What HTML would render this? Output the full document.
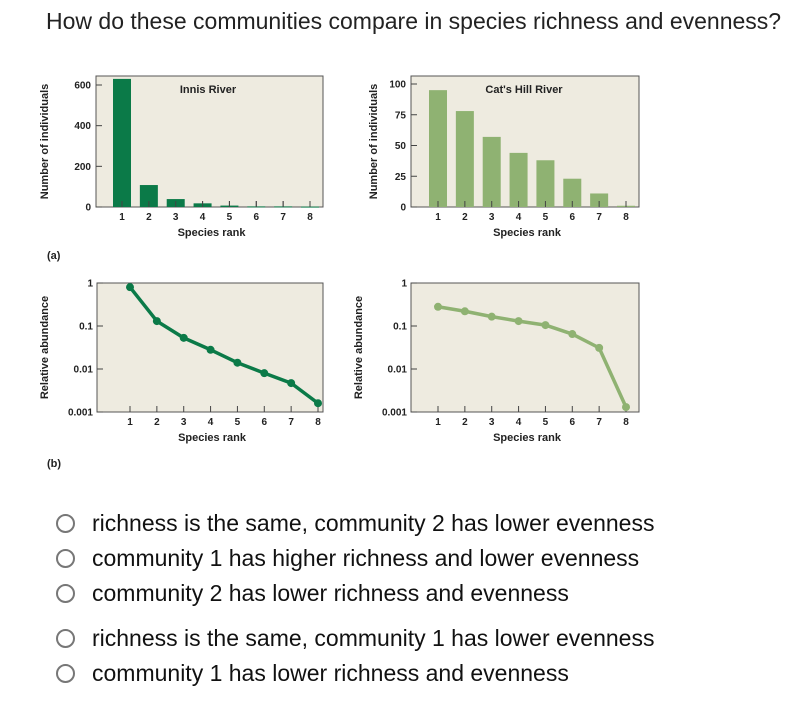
<!DOCTYPE html>
<html><head><meta charset="utf-8"><style>
body{margin:0;width:811px;height:704px;background:#fff;font-family:"Liberation Sans",Arial,sans-serif;overflow:hidden;position:relative}
#q{position:absolute;left:46px;top:8px;font-size:23px;color:#222;white-space:nowrap}
.opt{position:absolute;left:56px;height:30px;font-size:23px;color:#111;white-space:nowrap;display:flex;align-items:center}
.opt .r{width:19px;height:19px;border:2px solid #777;border-radius:50%;margin-right:17px;box-sizing:border-box}
svg{position:absolute;left:0;top:0}
svg text{font-family:"Liberation Sans",Arial,sans-serif;font-weight:bold;fill:#222}
</style></head><body>
<div id="q">How do these communities compare in species richness and evenness?</div>
<svg id="fig" width="811" height="480"></svg>
<div class="opt" style="top:508px"><span class="r"></span>richness is the same, community 2 has lower evenness</div>
<div class="opt" style="top:543px"><span class="r"></span>community 1 has higher richness and lower evenness</div>
<div class="opt" style="top:578px"><span class="r"></span>community 2 has lower richness and evenness</div>
<div class="opt" style="top:623px"><span class="r"></span>richness is the same, community 1 has lower evenness</div>
<div class="opt" style="top:658px"><span class="r"></span>community 1 has lower richness and evenness</div>
<script>
const ranks=[1,2,3,4,5,6,7,8];
const innisCounts=[630,108,39,18,7,3,3,2];
const catsCounts=[95,78,57,44,38,23,11,1];
const innisRel=[0.8,0.13,0.053,0.028,0.014,0.008,0.0047,0.0016];
const catsRel=[0.28,0.22,0.165,0.13,0.105,0.065,0.031,0.0013];
const innisTicks=[0,200,400,600];
const catsTicks=[0,25,50,75,100];
const logTicks=[0.001,0.01,0.1,1];
const logTickLabels=["0.001","0.01","0.1","1"];
const DARK="#0b7a48",LIGHT="#8fb272",BG="#eeebe0";
const svg=document.getElementById('fig');
const NS="http://www.w3.org/2000/svg";
function mk(t,a,txt){const e=document.createElementNS(NS,t);for(const k in a)e.setAttribute(k,a[k]);if(txt!=null)e.textContent=txt;svg.appendChild(e);return e;}
function panel(o){
 const {L,R,T,B,x1,x8,name}=o;
 const xs=r=>x1+(r-1)*(x8-x1)/7;
 const box=mk('rect',{x:L,y:T,width:R-L,height:B-T,fill:BG,stroke:'#555','stroke-width':1});
 
 ranks.forEach(r=>{
  mk('line',{x1:xs(r),x2:xs(r),y1:B,y2:B-6,stroke:'#444'});
  const t=mk('text',{x:xs(r),y:B+13,'font-size':10,'text-anchor':'middle'},r);
  
 });
 const xt=mk('text',{x:(L+R)/2+2,y:B+29,'font-size':11,'text-anchor':'middle'},'Species rank');
 
 const yt=mk('text',{x:0,y:0,'font-size':11,'text-anchor':'middle',transform:`translate(${o.ylx},${(T+B)/2}) rotate(-90)`},o.ytitle);
 
 return xs;
}
function barPanel(o,vals,ticks,max,color){
 const xs=panel(o);const {T,B,L}=o;const top=o.ytop;
 const ys=v=>B-(v/max)*(B-top);
 ticks.forEach(v=>{mk('line',{x1:L,x2:L+6,y1:ys(v),y2:ys(v),stroke:'#444'});
  const t=mk('text',{x:L-5,y:ys(v)+3.5,'font-size':10,'text-anchor':'end'},v);
  });
 vals.forEach((v,i)=>{const h=B-ys(v);
  const b=mk('rect',{x:xs(ranks[i])-9,y:ys(v),width:18,height:Math.max(h,1),fill:color});
  
  mk('line',{x1:xs(ranks[i]),x2:xs(ranks[i]),y1:B,y2:B-6,stroke:'#444'});});
 const tt=mk('text',{x:o.titleX,y:T+17,'font-size':11,'text-anchor':'middle'},o.title);
 
}
function linePanel(o,vals,color){
 const xs=panel(o);const {T,B,L}=o;
 const ys=v=>B-(Math.log10(v)+3)/3*(B-T);
 logTicks.forEach((v,i)=>{mk('line',{x1:L,x2:L+6,y1:ys(v),y2:ys(v),stroke:'#444'});
  const t=mk('text',{x:L-4,y:ys(v)+3.5,'font-size':10,'text-anchor':'end'},logTickLabels[i]);
  });
 const pts=vals.map((v,i)=>xs(ranks[i])+','+ys(v)).join(' ');
 const pl=mk('polyline',{points:pts,fill:'none',stroke:color,'stroke-width':3.5,'stroke-linejoin':'round'});
 
 vals.forEach((v,i)=>{const c=mk('circle',{cx:xs(ranks[i]),cy:ys(v),r:4,fill:color});
  });
}
barPanel({L:96,R:323,T:76,B:207,x1:122,x8:310,ytop:85,ylx:48,ytitle:'Number of individuals',name:'innis',title:'Innis River',titleX:208},innisCounts,innisTicks,600,DARK);
barPanel({L:411,R:639,T:76,B:207,x1:438,x8:626,ytop:84,ylx:377,ytitle:'Number of individuals',name:'cats',title:"Cat's Hill River",titleX:524},catsCounts,catsTicks,100,LIGHT);
linePanel({L:97,R:323,T:283,B:412,x1:130,x8:318,ylx:48,ytitle:'Relative abundance',name:'innis-rel'},innisRel,DARK);
linePanel({L:411,R:639,T:283,B:412,x1:438,x8:626,ylx:362,ytitle:'Relative abundance',name:'cats-rel'},catsRel,LIGHT);
const a=mk('text',{x:47,y:259,'font-size':11},'(a)');
const b=mk('text',{x:47,y:467,'font-size':11},'(b)');
</script>
</body></html>
